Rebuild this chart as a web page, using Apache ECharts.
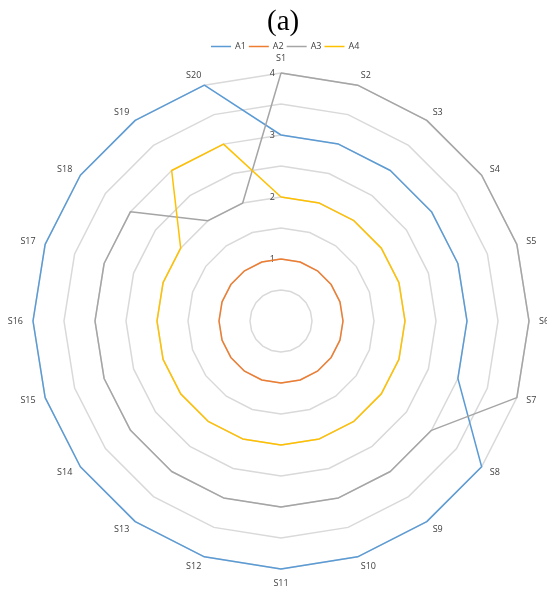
<!DOCTYPE html>
<html>
<head>
<meta charset="utf-8">
<script src="https://cdn.jsdelivr.net/npm/echarts@6/dist/echarts.min.js"></script>
<style>
  html, body { margin: 0; padding: 0; background: #fff; }
  #chart { width: 547px; height: 593px; }
</style>
</head>
<body>
<div id="chart"></div>
<script>
// indicator names around the radar (clockwise from the top)
const categories = ['S1', 'S2', 'S3', 'S4', 'S5', 'S6', 'S7', 'S8', 'S9', 'S10',
  'S11', 'S12', 'S13', 'S14', 'S15', 'S16', 'S17', 'S18', 'S19', 'S20']
const seriesNames = ['A1', 'A2', 'A3', 'A4']
const a1 = [3, 3, 3, 3, 3, 3, 3, 4, 4, 4, 4, 4, 4, 4, 4, 4, 4, 4, 4, 4]
const a2 = [1, 1, 1, 1, 1, 1, 1, 1, 1, 1, 1, 1, 1, 1, 1, 1, 1, 1, 1, 1]
const a3 = [4, 4, 4, 4, 4, 4, 4, 3, 3, 3, 3, 3, 3, 3, 3, 3, 3, 3, 2, 2]
const a4 = [2, 2, 2, 2, 2, 2, 2, 2, 2, 2, 2, 2, 2, 2, 2, 2, 2, 2, 3, 3]
const tickLabels = ['1', '2', '3', '4']
const maxValue = 4

const colors = ['#5B9BD5', '#ED7D31', '#A5A5A5', '#FFC000']
const values = [a1, a2, a3, a4]

// echarts radar runs counter-clockwise, so keep S1 first and reverse the rest
const order = [0].concat(categories.slice(1).map((c, i) => categories.length - 1 - i))
const reorder = arr => order.map(i => arr[i])

const chart = echarts.init(document.getElementById('chart'))

const indicator = reorder(categories).map((name, i) => {
  const ind = { name: name, max: maxValue, min: 0 }
  if (i === 0) {
    // only the first spoke carries the value labels
    ind.axisLabel = {
      show: true,
      color: '#404040',
      fontSize: 9,
      fontFamily: 'Open Sans',
      margin: 6,
      formatter: v => tickLabels.indexOf(String(v)) >= 0 ? String(v) : ''
    }
  }
  return ind
})

chart.setOption({
  animation: false,
  color: colors,
  title: {
    text: '(a)',
    left: 262,
    top: 3,
    textStyle: {
      fontFamily: 'Liberation Serif',
      fontWeight: 'normal',
      fontSize: 29,
      color: '#000'
    }
  },
  legend: {
    top: 37,
    left: 206,
    icon: 'rect',
    itemWidth: 20,
    itemHeight: 1.5,
    itemGap: 3,
    textStyle: { fontSize: 9, color: '#404040', fontFamily: 'Open Sans', padding: [0, 0, 0, -1] },
    data: seriesNames
  },
  radar: {
    center: [281, 321],
    radius: 248,
    shape: 'polygon',
    splitNumber: 8,
    startAngle: 90,
    indicator: indicator,
    axisName: { color: '#404040', fontSize: 9, fontFamily: 'Open Sans' },
    nameGap: 10,
    axisLine: { show: false },
    axisTick: { show: false },
    axisLabel: { show: false },
    splitArea: { show: false },
    splitLine: { lineStyle: { color: '#D9D9D9', width: 1.5 } }
  },
  series: [{
    type: 'radar',
    symbol: 'none',
    lineStyle: { width: 1.5 },
    data: seriesNames.map((name, i) => ({
      name: name,
      value: reorder(values[i]),
      lineStyle: { color: colors[i], width: 1.5 },
      itemStyle: { color: colors[i] }
    }))
  }]
})
</script>
</body>
</html>
